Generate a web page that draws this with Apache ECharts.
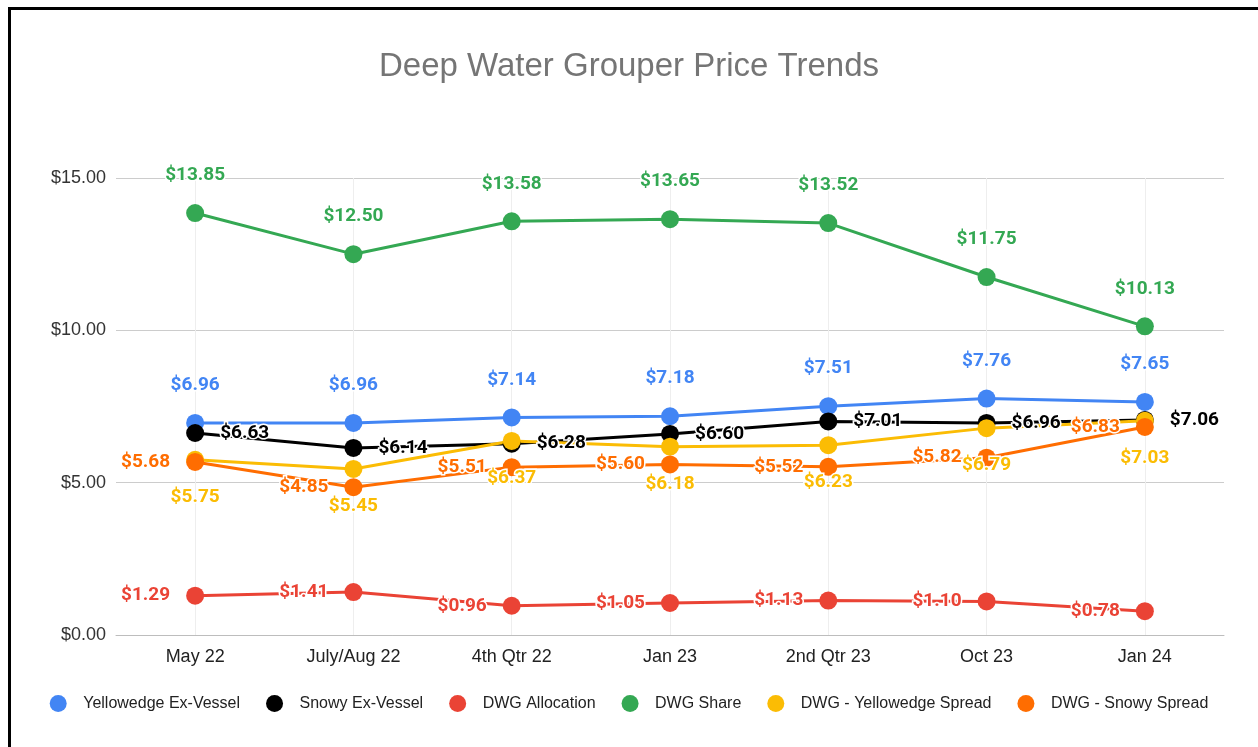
<!DOCTYPE html>
<html>
<head>
<meta charset="utf-8">
<script src="https://cdn.jsdelivr.net/npm/echarts@6/dist/echarts.min.js"></script>
<style>
    html, body { margin: 0; padding: 0; background: #fff; }
    .frame { position: absolute; left: 8px; top: 7px; width: 1260px; height: 760px; border-top: 3px solid #000; border-left: 3px solid #000; }
    #main { position: absolute; left: 0; top: 0; width: 1258px; height: 747px; }
</style>
</head>
<body>
<div class="frame"></div>
<div id="main"></div>
<script type="text/javascript">
    var categories = ['May 22', 'July/Aug 22', '4th Qtr 22', 'Jan 23', '2nd Qtr 23', 'Oct 23', 'Jan 24'];
    var yellowedgeExVessel = [6.96, 6.96, 7.14, 7.18, 7.51, 7.76, 7.65];
    var snowyExVessel = [6.63, 6.14, 6.28, 6.60, 7.01, 6.96, 7.06];
    var dwgAllocation = [1.29, 1.41, 0.96, 1.05, 1.13, 1.10, 0.78];
    var dwgShare = [13.85, 12.50, 13.58, 13.65, 13.52, 11.75, 10.13];
    var yellowedgeSpread = [5.75, 5.45, 6.37, 6.18, 6.23, 6.79, 7.03];
    var snowySpread = [5.68, 4.85, 5.51, 5.60, 5.52, 5.82, 6.83];
    var yTicks = [0, 5, 10, 15];

    var myChart = echarts.init(document.getElementById('main'));

    function money(v) { return '$' + Number(v).toFixed(2); }

    function makeSeries(name, data, color, pos) {
        return {
            name: name,
            type: 'line',
            data: data,
            symbol: 'circle',
            symbolSize: 18,
            lineStyle: { color: color, width: 3 },
            itemStyle: { color: color },
            label: {
                show: true,
                position: pos,
                distance: (pos == 'top' || pos == 'bottom') ? 19 : 16,
                formatter: function (p) { return money(p.value); },
                color: color,
                fontFamily: 'Roboto',
                fontWeight: 'bold',
                fontSize: 19,
                textBorderColor: '#fff',
                textBorderWidth: 3
            },
            emphasis: { disabled: true },
            animation: false
        };
    }

    var option = {
        title: {
            text: 'Deep Water Grouper Price Trends',
            left: 'center',
            top: 45,
            textStyle: { fontFamily: 'Liberation Sans', fontWeight: 'normal', fontSize: 33, color: '#757575' }
        },
        legend: {
            bottom: 30,
            left: 'center',
            icon: 'circle',
            itemWidth: 40,
            itemHeight: 17,
            itemGap: 26,
            textStyle: { fontFamily: 'Liberation Sans', fontSize: 16, color: '#222' },
            data: ['Yellowedge Ex-Vessel', 'Snowy Ex-Vessel', 'DWG Allocation', 'DWG Share', 'DWG - Yellowedge Spread', 'DWG - Snowy Spread']
        },
        grid: { left: 116, right: 34, top: 178, bottom: 112, containLabel: false },
        xAxis: {
            type: 'category',
            data: categories,
            boundaryGap: true,
            axisLine: { lineStyle: { color: '#bdbdbd' } },
            axisTick: { show: false },
            axisLabel: { fontFamily: 'Liberation Sans', fontSize: 18, color: '#222', margin: 13 },
            splitLine: { show: true, alignWithLabel: true, lineStyle: { color: '#eeeeee' } }
        },
        yAxis: {
            type: 'value',
            min: yTicks[0],
            max: yTicks[yTicks.length - 1],
            interval: 5,
            axisLine: { show: false },
            axisTick: { show: false },
            axisLabel: { fontFamily: 'Liberation Sans', fontSize: 18, color: '#333', margin: 10, formatter: money },
            splitLine: { lineStyle: { color: '#cccccc' } }
        },
        series: [
            makeSeries('Yellowedge Ex-Vessel', yellowedgeExVessel, '#4285F4', 'top'),
            makeSeries('Snowy Ex-Vessel', snowyExVessel, '#000000', 'right'),
            makeSeries('DWG Allocation', dwgAllocation, '#EA4335', 'left'),
            makeSeries('DWG Share', dwgShare, '#34A853', 'top'),
            makeSeries('DWG - Yellowedge Spread', yellowedgeSpread, '#FBBC04', 'bottom'),
            makeSeries('DWG - Snowy Spread', snowySpread, '#FF6D01', 'left')
        ]
    };

    myChart.setOption(option);
</script>
</body>
</html>
